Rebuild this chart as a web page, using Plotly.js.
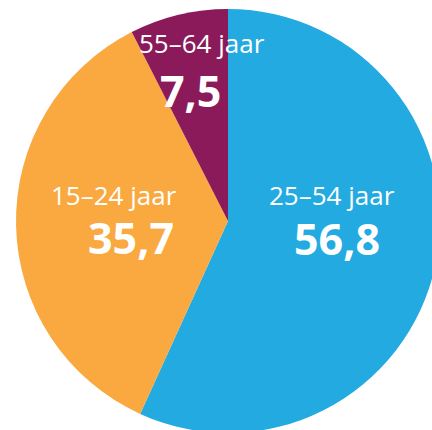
<!DOCTYPE html>
<html><head><meta charset="utf-8">
<script src="https://cdn.plot.ly/plotly-3.0.1.min.js"></script>
<style>html,body{margin:0;padding:0;overflow:hidden;background:#fff;width:432px;height:430px}#c{width:456px;height:442px}</style>
</head><body><div id="c"></div>
<script>
const labels = ['25–54 jaar', '15–24 jaar', '55–64 jaar'];
const values = [56.8, 35.7, 7.5];
const colors = ['#22aae1', '#f9a940', '#8b1a5a'];
// label positions in page pixels (label line, number line)
const labelPos = [[332, 195], [114, 195], [202, 43]];
const numPos = [[337, 238], [131, 237], [190, 91]];

const W = 456, H = 442;
const fmt = v => v.toFixed(1).replace('.', ',');
const annotations = [];
labels.forEach((l, i) => {
  annotations.push({xref:'paper', yref:'paper', x: labelPos[i][0]/W, y: 1 - labelPos[i][1]/H,
    text: l, showarrow:false, xanchor:'center', yanchor:'middle', borderpad:0,
    font:{family:'Open Sans, sans-serif', size:26, color:'#ffffff'}});
  annotations.push({xref:'paper', yref:'paper', x: numPos[i][0]/W, y: 1 - numPos[i][1]/H,
    text: '<b>' + fmt(values[i]) + '</b>', showarrow:false, xanchor:'center', yanchor:'middle', borderpad:0,
    font:{family:'Open Sans, sans-serif', size:43, color:'#ffffff', weight:800}});
});

Plotly.newPlot('c', [{
  type:'pie', labels: labels, values: values, sort:false, direction:'clockwise', rotation:0,
  marker:{colors: colors, line:{width:0}}, textinfo:'none', hoverinfo:'none',
  domain:{x:[16/W, 440/W], y:[1 - 433/H, 1 - 9/H]}
}], {
  width: W, height: H, margin:{l:0, r:0, t:0, b:0}, showlegend:false,
  paper_bgcolor:'#ffffff', annotations: annotations
}, {displayModeBar:false, staticPlot:true});
</script></body></html>
